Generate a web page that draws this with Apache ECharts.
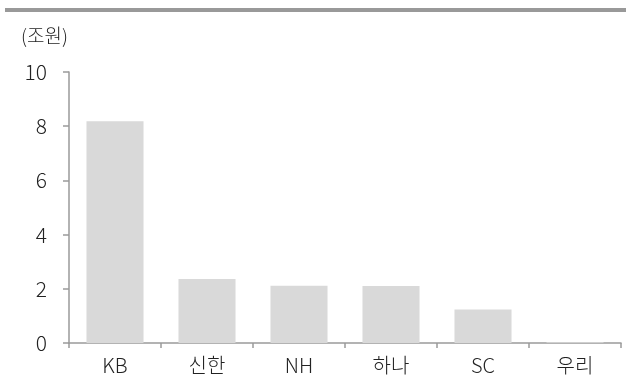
<!DOCTYPE html>
<html>
<head>
<meta charset="utf-8">
<script src="https://cdn.jsdelivr.net/npm/echarts@6/dist/echarts.min.js"></script>
<style>
  html, body { margin: 0; padding: 0; background: #fff; }
  #chart { width: 626px; height: 385px; }
</style>
</head>
<body>
<div id="chart"></div>
<script>
const banks = ['KB', '신한', 'NH', '하나', 'SC', '우리']
const amounts = [8.18, 2.36, 2.11, 2.1, 1.24, 0.03]
const yTicks = [0, 2, 4, 6, 8, 10]

const font = '"Noto Sans CJK KR", "Noto Sans", sans-serif'
const axisColor = '#9a9a9a'

const chart = echarts.init(document.getElementById('chart'))
chart.setOption({
  animation: false,
  textStyle: { fontFamily: font },
  graphic: [
    {
      type: 'rect',
      shape: { x: 5, y: 8, width: 621, height: 4 },
      style: { fill: '#999999' }
    },
    {
      type: 'text',
      left: 21,
      top: 26,
      style: { text: '(조원)', font: '300 19px ' + font, fill: '#222' }
    }
  ],
  grid: { left: 69, right: 5, top: 72, bottom: 42 },
  xAxis: {
    type: 'category',
    data: banks,
    axisLine: { lineStyle: { color: axisColor, width: 1.5 } },
    axisTick: { show: true, length: 5, lineStyle: { color: axisColor, width: 1.5 } },
    axisLabel: { color: '#222', fontSize: 20, fontWeight: 300, margin: 12 }
  },
  yAxis: {
    type: 'value',
    min: yTicks[0],
    max: yTicks[yTicks.length - 1],
    interval: 2,
    splitLine: { show: false },
    axisLine: { show: true, lineStyle: { color: axisColor, width: 1.5 } },
    axisTick: { show: true, length: 6, lineStyle: { color: axisColor, width: 1.5 } },
    axisLabel: { color: '#222', fontSize: 21, fontWeight: 300, margin: 22 }
  },
  series: [{
    type: 'bar',
    data: amounts,
    barWidth: '62%',
    itemStyle: { color: '#d9d9d9' }
  }]
})
</script>
</body>
</html>
